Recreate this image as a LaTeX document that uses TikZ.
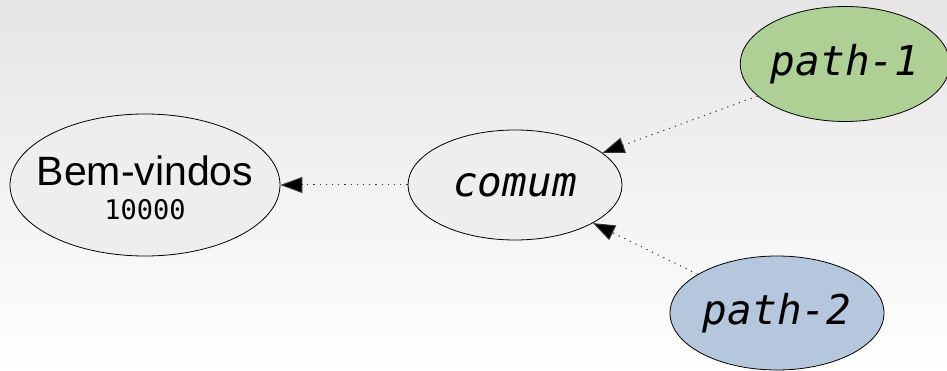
\documentclass[tikz,border=0pt]{standalone}
\usepackage{fontspec}
\setmainfont{Liberation Sans}
\newfontfamily\monofont{DejaVu Sans Mono}
\usetikzlibrary{shapes.geometric,arrows.meta}
\definecolor{nodegray}{RGB}{238,238,238}
\definecolor{pathgreen}{RGB}{174,208,148}
\definecolor{pathblue}{RGB}{180,199,221}
\definecolor{bgtop}{RGB}{229,229,229}
\tikzset{
  ell/.style={ellipse, draw=black, line width=0.8pt, inner sep=0pt, align=center},
  conn/.style={draw=black!80, line width=1pt, dash pattern=on 1.2pt off 5pt,
    -{Triangle[length=22pt,width=16pt,fill=black]}},
  ittext/.style={font=\monofont\itshape\fontsize{41}{48}\selectfont},
  plain/.style={inner sep=0pt, anchor=base}
}
\begin{document}
\begin{tikzpicture}[x=1pt,y=-1pt]
\useasboundingbox (0,0) rectangle (947,371);
\shade[top color=bgtop, bottom color=white] (0,0) rectangle (947,371);
\node[ell, fill=nodegray, minimum width=270pt, minimum height=142pt] (bem) at (145,185) {};
\node[plain, font=\fontsize{41}{48}\selectfont] (bemt) at (145,186) {Bem-vindos};
\node[plain, font=\monofont\fontsize{27}{30}\selectfont] (bemn) at (145,220) {10000};
\node[ell, fill=nodegray, ittext, minimum width=214pt, minimum height=110pt] (comum) at (515,185) {comum};
\node[ell, fill=pathgreen, ittext, minimum width=206pt, minimum height=115pt] (p1) at (845,64) {path-1};
\node[ell, fill=pathblue, ittext, minimum width=214pt, minimum height=114pt] (p2) at (777,313) {path-2};
\draw[conn] (comum) -- (bem);
\draw[conn] (p1) -- (comum);
\draw[conn] (p2) -- (comum);
\end{tikzpicture}
\end{document}
